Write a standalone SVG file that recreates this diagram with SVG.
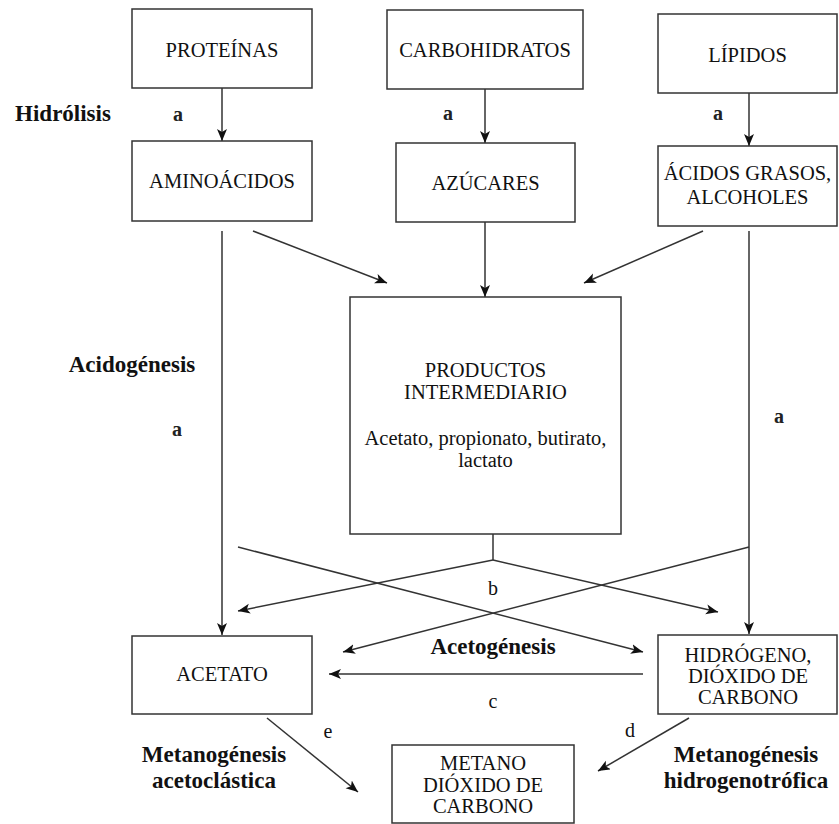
<svg xmlns="http://www.w3.org/2000/svg" width="839" height="824" viewBox="0 0 839 824">
<style>
.box{fill:#fff;stroke:#333;stroke-width:1.5}
.t{font-family:"Liberation Serif","Times New Roman",serif;font-size:20.5px;fill:#111;text-anchor:middle}
.b{font-family:"Liberation Serif","Times New Roman",serif;font-size:23px;font-weight:bold;fill:#111;text-anchor:middle}
.l{font-family:"Liberation Serif","Times New Roman",serif;font-size:20px;fill:#111;text-anchor:middle}
.la{font-family:"Liberation Serif","Times New Roman",serif;font-size:20px;font-weight:bold;fill:#222;text-anchor:middle}
.c{fill:none;stroke:#333;stroke-width:1.5}
.g{fill:none;stroke:#666;stroke-width:2}
</style>
<defs>
<marker id="ah" markerUnits="userSpaceOnUse" markerWidth="14" markerHeight="12" refX="12" refY="5" orient="auto">
<path d="M0,0 L12,5 L0,10 L3,5 Z" fill="#111"/>
</marker>
</defs>
<rect width="839" height="824" fill="#fff"/>

<g id="connectors">
<line class="c" x1="222" y1="88" x2="222" y2="141" marker-end="url(#ah)"/>
<line class="c" x1="485" y1="89" x2="485" y2="143" marker-end="url(#ah)"/>
<line class="c" x1="749" y1="93" x2="749" y2="146" marker-end="url(#ah)"/>
<line class="c" x1="253" y1="231" x2="387" y2="283" marker-end="url(#ah)"/>
<line class="c" x1="485" y1="222" x2="485" y2="297" marker-end="url(#ah)"/>
<line class="c" x1="703" y1="231" x2="584" y2="283" marker-end="url(#ah)"/>
<line class="c" x1="222" y1="231" x2="222" y2="635" marker-end="url(#ah)"/>
<line class="c" x1="749" y1="231" x2="749" y2="634" marker-end="url(#ah)"/>
<polyline class="c" points="493,534 493,560"/>
<line class="c" x1="493" y1="560" x2="238" y2="611" marker-end="url(#ah)"/>
<line class="c" x1="493" y1="560" x2="718" y2="612" marker-end="url(#ah)"/>
<line class="c" x1="238" y1="547" x2="643" y2="652" marker-end="url(#ah)"/>
<line class="c" x1="749" y1="547" x2="343" y2="652" marker-end="url(#ah)"/>
<line class="g" x1="643" y1="674" x2="329" y2="674" marker-end="url(#ah)"/>
<line class="c" x1="267" y1="718" x2="358" y2="792" marker-end="url(#ah)"/>
<line class="c" x1="689" y1="718" x2="598" y2="771" marker-end="url(#ah)"/>
</g>

<g id="proteinas"><rect class="box" x="132" y="9" width="180" height="79"/><text class="t" x="222" y="57">PROTEÍNAS</text></g>
<g id="carbohidratos"><rect class="box" x="387" y="10" width="196" height="79"/><text class="t" x="485" y="57">CARBOHIDRATOS</text></g>
<g id="lipidos"><rect class="box" x="658" y="14" width="179" height="79"/><text class="t" x="747.5" y="62">LÍPIDOS</text></g>
<g id="aminoacidos"><rect class="box" x="132" y="141" width="180" height="80"/><text class="t" x="222" y="188">AMINOÁCIDOS</text></g>
<g id="azucares"><rect class="box" x="396" y="143" width="179" height="79"/><text class="t" x="485.5" y="190">AZÚCARES</text></g>
<g id="acidos"><rect class="box" x="658" y="146" width="179" height="80"/><text class="t" x="747.5" y="180">ÁCIDOS GRASOS,</text><text class="t" x="747.5" y="204">ALCOHOLES</text></g>
<g id="productos"><rect class="box" x="350" y="297" width="271" height="237"/>
<text class="t" x="485.5" y="377">PRODUCTOS</text>
<text class="t" x="485.5" y="399">INTERMEDIARIO</text>
<text class="t" x="485.5" y="445">Acetato, propionato, butirato,</text>
<text class="t" x="485.5" y="467">lactato</text></g>
<g id="acetato"><rect class="box" x="132" y="636" width="180" height="78"/><text class="t" x="222" y="681">ACETATO</text></g>
<g id="hidrogeno"><rect class="box" x="658" y="635" width="179" height="79"/>
<text class="t" x="748" y="662">HIDRÓGENO,</text>
<text class="t" x="748" y="683">DIÓXIDO DE</text>
<text class="t" x="748" y="704">CARBONO</text></g>
<g id="metano"><rect class="box" x="392" y="745" width="182" height="78"/>
<text class="t" x="483" y="770">METANO</text>
<text class="t" x="483" y="792">DIÓXIDO DE</text>
<text class="t" x="483" y="813">CARBONO</text></g>

<g id="labels">
<text class="b" x="63" y="121">Hidrólisis</text>
<text class="la" x="178" y="121">a</text>
<text class="la" x="448" y="120">a</text>
<text class="la" x="718" y="120">a</text>
<text class="b" x="132" y="372">Acidogénesis</text>
<text class="la" x="177" y="436">a</text>
<text class="la" x="779" y="423">a</text>
<text class="l" x="493" y="595">b</text>
<text class="b" x="493" y="654">Acetogénesis</text>
<text class="l" x="493" y="708">c</text>
<text class="l" x="328" y="738">e</text>
<text class="l" x="630" y="737">d</text>
<text class="b" x="214" y="762">Metanogénesis</text>
<text class="b" x="214" y="788">acetoclástica</text>
<text class="b" x="746" y="762">Metanogénesis</text>
<text class="b" x="746" y="788">hidrogenotrófica</text>
</g>
</svg>
